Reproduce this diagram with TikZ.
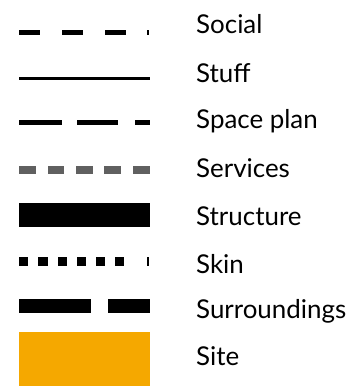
\documentclass[tikz,border=0pt]{standalone}
\usepackage{fontspec}
\setmainfont{Lato}
\definecolor{siteorange}{HTML}{F5A800}
\definecolor{servgray}{HTML}{606060}
\begin{document}
\begin{tikzpicture}[x=1bp,y=-1bp,
  lbl/.style={anchor=base west,inner sep=0pt,font=\fontsize{26}{28}\selectfont}]
\useasboundingbox (0,0) rectangle (352,386);
% Social
\foreach \a/\b in {19/40,62/83,105/126,147/149}
  \fill (\a,29.5) rectangle (\b,35);
% Stuff
\fill (19,77) rectangle (150,79.5);
% Space plan
\foreach \a/\b in {19/62,77/118,135/150}
  \fill (\a,119.5) rectangle (\b,124.5);
% Services
\foreach \a/\b in {19/36,48/64,76/93,104/121,133/150}
  \fill[servgray] (\a,166) rectangle (\b,174);
% Structure
\fill (19,203) rectangle (150,227);
% Skin
\foreach \a/\b in {19/28.3,38.3/47.7,57.7/66.7,76.7/86,96/105,115/124.3,146.7/149}
  \fill (\a,257) rectangle (\b,266);
% Surroundings
\foreach \a/\b in {19/91,108/150}
  \fill (\a,299) rectangle (\b,313);
% Site
\fill[siteorange] (19,332) rectangle (150,386);
% labels
\node[lbl] (social) at (196,33) {Social};
\node[lbl] (stuff) at (196,82) {Stuff};
\node[lbl] (spaceplan) at (196,128) {Space plan};
\node[lbl] (services) at (196,177) {Services};
\node[lbl] (structure) at (196,225) {Structure};
\node[lbl] (skin) at (196,273) {Skin};
\node[lbl] (surroundings) at (196,318) {Surroundings};
\node[lbl] (site) at (196,365) {Site};
\end{tikzpicture}
\end{document}
